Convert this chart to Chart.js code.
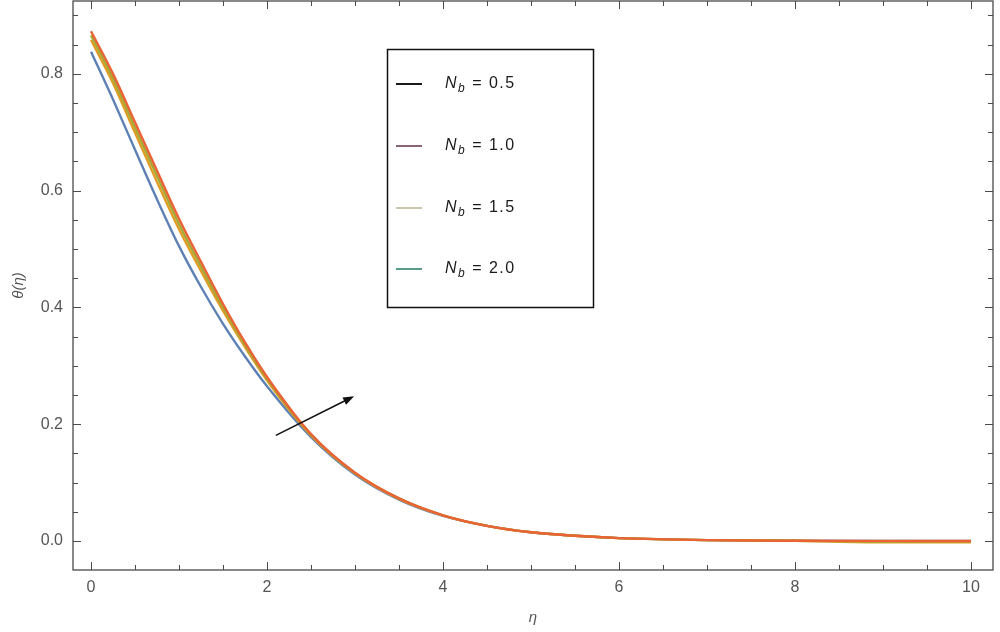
<!DOCTYPE html>
<html>
<head>
<meta charset="utf-8">
<script src="https://cdn.jsdelivr.net/npm/chart.js@4"></script>
<style>
  html, body { margin: 0; padding: 0; background: #fff; }
  #wrap { width: 1000px; height: 632px; }
</style>
</head>
<body>
<div id="wrap"><canvas id="chart" width="1000" height="632"></canvas></div>
<script>
// valeurs
const eta   = [0, 0.25, 0.5, 0.75, 1, 1.25, 1.5, 1.75, 2, 2.5, 3, 3.5, 4, 4.5, 5, 5.5, 6, 7, 8, 9, 10];
const nb05  = [0.838, 0.756, 0.670, 0.585, 0.505, 0.435, 0.372, 0.316, 0.265, 0.178, 0.114, 0.071, 0.043, 0.026, 0.015, 0.009, 0.005, 0.0015, 0.0005, 0.0002, 0.0];
const nb10  = [0.858, 0.784, 0.699, 0.615, 0.534, 0.462, 0.394, 0.332, 0.275, 0.181, 0.116, 0.072, 0.044, 0.026, 0.015, 0.009, 0.005, 0.0015, 0.0004, -0.002, -0.002];
const nb15  = [0.866, 0.792, 0.708, 0.625, 0.543, 0.470, 0.400, 0.336, 0.278, 0.182, 0.116, 0.073, 0.044, 0.026, 0.015, 0.009, 0.005, 0.0015, 0.0005, -0.001, -0.001];
const nb20  = [0.873, 0.800, 0.717, 0.634, 0.552, 0.478, 0.406, 0.340, 0.281, 0.183, 0.117, 0.073, 0.044, 0.026, 0.015, 0.009, 0.005, 0.0015, 0.0005, 0.0002, 0.0];
const nbValues = ['0.5', '1.0', '1.5', '2.0'];
const xTicks = [0, 2, 4, 6, 8, 10];
const yTicks = [0, 0.2, 0.4, 0.6, 0.8];
const arrowFrom = { x: 2.10, y: 0.181 };
const arrowTo   = { x: 2.99, y: 0.248 };

const lineColors   = ['#5E81B5', '#E19C24', '#A5A832', '#EB6235'];
const legendColors = ['#1a1a1a', '#8a6474', '#c9c6ac', '#5a9c8a'];
const FONT = '"Liberation Sans", Arial, sans-serif';

function series(vals) { return eta.map((x, i) => ({ x, y: vals[i] })); }

function ds(vals, i) {
    return {
        data: series(vals), borderColor: lineColors[i], borderWidth: 2.4,
        pointRadius: 0, fill: false, cubicInterpolationMode: 'monotone', order: 3 - i
    };
}

// cadre + graduations interieures facon Mathematica
const framePlugin = {
    id: 'frame',
    afterDatasetsDraw(chart) {
        const { ctx, chartArea: a, scales: { x, y } } = chart;
        ctx.save();
        ctx.strokeStyle = '#4a4a4a';
        ctx.lineWidth = 1.3;
        ctx.strokeRect(a.left, a.top, a.right - a.left, a.bottom - a.top);
        ctx.lineWidth = 1;
        ctx.beginPath();
        for (let k = 0; k <= 20; k++) {
            const px = Math.round(x.getPixelForValue(k * 0.5)) + 0.5;
            const len = k % 4 === 0 ? 8 : 5;
            ctx.moveTo(px, a.bottom); ctx.lineTo(px, a.bottom - len);
            ctx.moveTo(px, a.top); ctx.lineTo(px, a.top + len);
        }
        for (let k = 0; k <= 18; k++) {
            const py = Math.round(y.getPixelForValue(k * 0.05)) + 0.5;
            const len = k % 4 === 0 ? 8 : 5;
            ctx.moveTo(a.left, py); ctx.lineTo(a.left + len, py);
            ctx.moveTo(a.right, py); ctx.lineTo(a.right - len, py);
        }
        ctx.stroke();
        ctx.restore();
    }
};

// fleche (sens de Nb croissant)
const arrowPlugin = {
    id: 'arrow',
    afterDatasetsDraw(chart) {
        const { ctx, scales: { x, y } } = chart;
        const x0 = x.getPixelForValue(arrowFrom.x), y0 = y.getPixelForValue(arrowFrom.y);
        const x1 = x.getPixelForValue(arrowTo.x), y1 = y.getPixelForValue(arrowTo.y);
        const ang = Math.atan2(y1 - y0, x1 - x0);
        ctx.save();
        ctx.strokeStyle = '#111'; ctx.fillStyle = '#111'; ctx.lineWidth = 1.5;
        ctx.beginPath(); ctx.moveTo(x0, y0);
        ctx.lineTo(x1 - 8 * Math.cos(ang), y1 - 8 * Math.sin(ang)); ctx.stroke();
        ctx.beginPath();
        ctx.moveTo(x1, y1);
        ctx.lineTo(x1 - 11 * Math.cos(ang) + 4 * Math.sin(ang), y1 - 11 * Math.sin(ang) - 4 * Math.cos(ang));
        ctx.lineTo(x1 - 11 * Math.cos(ang) - 4 * Math.sin(ang), y1 - 11 * Math.sin(ang) + 4 * Math.cos(ang));
        ctx.closePath(); ctx.fill();
        ctx.restore();
    }
};

// legende encadree
const legendBoxPlugin = {
    id: 'legendBox',
    afterDraw(chart) {
        const { ctx } = chart;
        ctx.save();
        ctx.strokeStyle = '#111'; ctx.lineWidth = 1.5;
        ctx.strokeRect(387.5, 49.5, 206, 258);
        const rows = [84, 146, 208, 269];
        nbValues.forEach((v, i) => {
            const yy = rows[i];
            ctx.strokeStyle = legendColors[i]; ctx.lineWidth = 2;
            ctx.beginPath(); ctx.moveTo(396, yy); ctx.lineTo(422, yy); ctx.stroke();
            ctx.fillStyle = '#1a1a1a';
            ctx.textBaseline = 'middle';
            ctx.letterSpacing = '1.5px';
            let tx = 445;
            ctx.font = 'italic 16px ' + FONT;
            ctx.fillText('N', tx, yy); tx += ctx.measureText('N').width;
            ctx.font = 'italic 12px ' + FONT;
            ctx.fillText('b', tx, yy + 5); tx += ctx.measureText('b').width;
            ctx.font = '16px ' + FONT;
            ctx.fillText(' = ' + v, tx, yy);
        });
        ctx.restore();
    }
};

new Chart(document.getElementById('chart'), {
    type: 'line',
    data: { datasets: [nb05, nb10, nb15, nb20].map(ds) },
    options: {
        responsive: false,
        animation: false,
        layout: { padding: { left: 0, right: 7, top: 1, bottom: 0 } },
        plugins: { legend: { display: false }, tooltip: { enabled: false } },
        scales: {
            x: {
                type: 'linear', min: -0.205, max: 10.25,
                grid: { display: false, drawTicks: false }, border: { display: false },
                afterBuildTicks: s => { s.ticks = xTicks.map(v => ({ value: v })); },
                afterFit: s => { s.height = 62; s.paddingLeft = 0; s.paddingRight = 0; },
                ticks: { color: '#555', padding: 8, maxRotation: 0, autoSkip: false,
                         font: { family: FONT, size: 16 }, callback: v => String(v) },
                title: { display: true, text: 'η', color: '#555',
                         font: { family: FONT, size: 15, style: 'italic' }, padding: { top: 0, bottom: 5 } }
            },
            y: {
                type: 'linear', min: -0.0496, max: 0.9248,
                grid: { display: false, drawTicks: false }, border: { display: false },
                afterBuildTicks: s => { s.ticks = yTicks.map(v => ({ value: v })); },
                afterFit: s => { s.width = 73; s.paddingTop = 0; s.paddingBottom = 0; },
                ticks: { color: '#555', padding: 10, autoSkip: false,
                         font: { family: FONT, size: 16 }, callback: v => v.toFixed(1) },
                title: { display: true, text: 'θ(η)', color: '#555',
                         font: { family: FONT, size: 15, style: 'italic' }, padding: { top: 10, bottom: 0 } }
            }
        }
    },
    plugins: [framePlugin, arrowPlugin, legendBoxPlugin]
});
</script>
</body>
</html>
